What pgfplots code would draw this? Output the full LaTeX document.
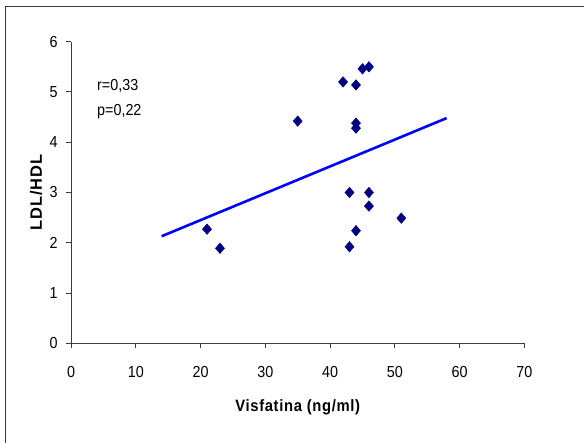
\documentclass[border=0pt]{standalone}
\usepackage{fontspec}
\setmainfont[FakeStretch=0.9]{Liberation Sans}
\newfontfamily\xlabfont[FakeStretch=0.9,LetterSpace=4]{Liberation Sans}
\newfontfamily\ylabfont[LetterSpace=6]{Liberation Sans}
\usepackage{pgfplots}
\pgfplotsset{compat=1.18}
\definecolor{navy}{RGB}{0,0,128}
\definecolor{fitblue}{RGB}{0,0,255}
\definecolor{axisgray}{RGB}{60,60,60}

% Visfatina (ng/ml) vs LDL/HDL
\pgfplotstableread{
x   y
21  2.27
23  1.89
35  4.42
42  5.20
44  5.14
45  5.46
46  5.50
44  4.38
44  4.28
43  3.00
46  3.00
46  2.73
51  2.49
44  2.24
43  1.92
}\visdata

\begin{document}
\begin{tikzpicture}
\useasboundingbox (0,0) rectangle (584bp,443bp);
\draw[axisgray, line width=1.5bp] (5.5bp,0) -- (5.5bp,436.5bp) -- (584bp,436.5bp);
\begin{axis}[
  at={(71bp,99.7bp)}, anchor=south west,
  scale only axis, width=453.4bp, height=301.6bp,
  xmin=0, xmax=70, ymin=0, ymax=6,
  xtick={0,10,...,70}, ytick={0,1,...,6},
  axis x line=bottom, axis y line=left,
  axis line style={-, axisgray, line width=1bp},
  tick style={axisgray, line width=1bp},
  tick align=outside, major tick length=5bp,
  /pgf/number format/assume math mode=true,
  ticklabel style={font=\fontsize{16pt}{18pt}\selectfont},
  xticklabel shift=15bp, yticklabel shift=5bp,
  xlabel={\xlabfont\bfseries Visfatina (ng/ml)},
  ylabel={\ylabfont\bfseries LDL/HDL},
  label style={font=\fontsize{16.5pt}{19pt}\selectfont},
  xlabel style={at={(axis description cs:0.5,-0.211)}, anchor=center},
  ylabel style={at={(axis description cs:-0.0772,0.5)}, anchor=center, rotate=0},
  clip=false,
]
\addplot[fitblue, line width=2.6bp] coordinates {(14,2.13) (58,4.48)};
\addplot[only marks, mark=diamond*, mark size=5.3bp, navy, mark options={fill=navy, draw=navy, xscale=1.15}] table[x=x,y=y] {\visdata};
\node[anchor=west, font=\fontsize{16pt}{18pt}\selectfont] at (axis cs:3.5,5.12) {r=0,33};
\node[anchor=west, font=\fontsize{16pt}{18pt}\selectfont] at (axis cs:3.5,4.60) {p=0,22};
\end{axis}
\end{tikzpicture}
\end{document}
